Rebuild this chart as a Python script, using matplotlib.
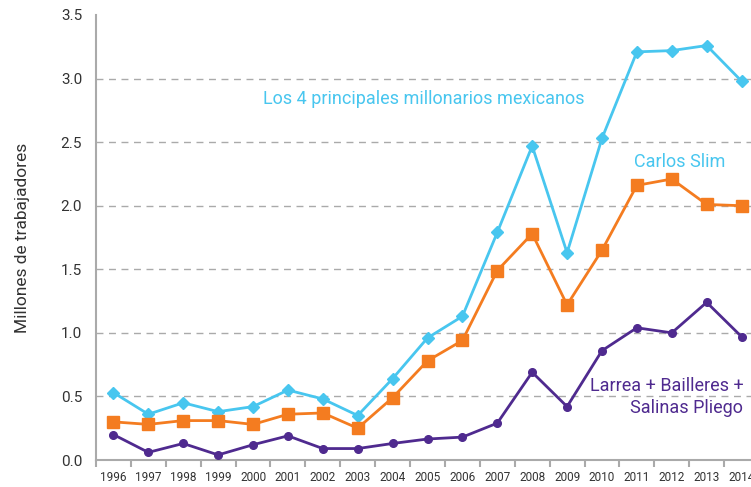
import matplotlib.pyplot as plt
import numpy as np

# Datos (millones de trabajadores)
anios = ["1996", "1997", "1998", "1999", "2000", "2001", "2002", "2003", "2004", "2005",
         "2006", "2007", "2008", "2009", "2010", "2011", "2012", "2013", "2014"]
los4 = [0.53, 0.36, 0.45, 0.38, 0.42, 0.55, 0.48, 0.35, 0.64, 0.96,
        1.13, 1.79, 2.47, 1.63, 2.53, 3.21, 3.22, 3.26, 2.98]
slim = [0.30, 0.28, 0.31, 0.31, 0.28, 0.36, 0.37, 0.25, 0.49, 0.78,
        0.94, 1.49, 1.78, 1.22, 1.65, 2.16, 2.21, 2.01, 2.00]
larrea = [0.20, 0.06, 0.13, 0.04, 0.12, 0.19, 0.09, 0.09, 0.13, 0.165,
          0.18, 0.29, 0.69, 0.42, 0.86, 1.04, 1.00, 1.24, 0.97]

cian = "#48C6EF"
naranja = "#F47C20"
morado = "#4F2A8F"

plt.rcParams['font.family'] = ['Roboto', 'DejaVu Sans']

fig = plt.figure(figsize=(7.51, 4.87), dpi=100)
ax = fig.add_axes([96/751, 27/487, 663/751, 445/487])

x = np.arange(len(anios))
ax.plot(x, los4, color=cian, lw=2, marker="D", ms=6, zorder=3)
ax.plot(x, slim, color=naranja, lw=2, marker="s", ms=8, zorder=3)
ax.plot(x, larrea, color=morado, lw=2, marker="o", ms=5.5, zorder=3)

ax.set_xlim(-0.5, 18.5)
ax.set_ylim(0, 3.5)

ax.set_xticks(x)
ax.set_xticklabels(anios, fontsize=8.5, color="#333333")
ax.set_xticks(np.arange(-0.5, 19, 1), minor=True)
ax.tick_params(axis="x", which="major", length=0, pad=8)
ax.tick_params(axis="x", which="minor", length=5, width=1.5, color="#aaaaaa")
ax.set_yticks(np.arange(0, 3.51, 0.5))
ax.set_yticklabels([f"{v:.1f}" for v in np.arange(0, 3.51, 0.5)], fontsize=11, color="#333333")
ax.tick_params(axis="y", length=0, pad=10)

for v in np.arange(0.5, 3.01, 0.5):
    ax.axhline(v, color="#aaaaaa", lw=1, ls=(0, (5, 4)), zorder=1)

for s in ["top", "right"]:
    ax.spines[s].set_visible(False)
for s in ["left", "bottom"]:
    ax.spines[s].set_color("#aaaaaa")
    ax.spines[s].set_linewidth(1.5)

ax.set_ylabel("Millones de trabajadores", fontsize=12.5, color="#333333", labelpad=22)

ax.text(8.9, 2.84, "Los 4 principales millonarios mexicanos", color=cian, fontsize=13,
        ha="center", va="center")
ax.text(17.55, 2.34, "Carlos Slim", color=cian, fontsize=13, ha="right", va="center")
ax.text(18.05, 0.58, "Larrea + Bailleres +", color=morado, fontsize=13, ha="right", va="center")
ax.text(18.05, 0.41, "Salinas Pliego", color=morado, fontsize=13, ha="right", va="center")

plt.savefig("out.png", dpi=100)
